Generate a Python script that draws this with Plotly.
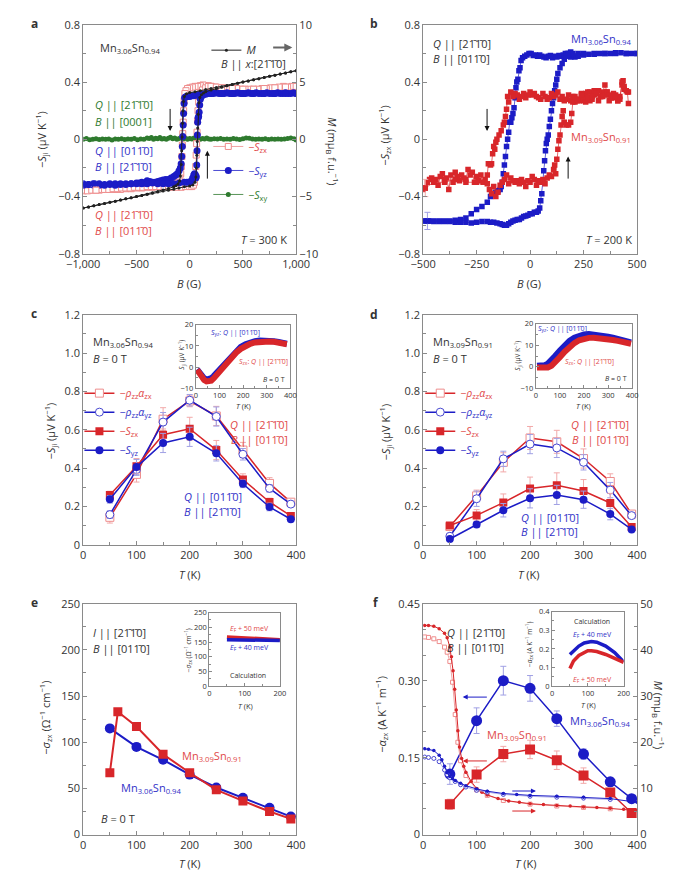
import plotly.graph_objects as go

W, H = 685, 870
FONT = "Open Sans"
TXT = "#333333"
AXC = "#8a8a8a"
RED = "#d8262a"
LRED = "#ee8c8c"
ERED = "#f2a9a9"
BLUE = "#1c1cc6"
MBLUE = "#4848d0"
LBLUE = "#a0a0e4"
GREEN = "#2e7a2e"
TRED = "#df4a4a"
TBLUE = "#3232c8"
BAR = "\u0304"
D2110 = f"[21{BAR}1{BAR}0]"
D0110 = f"[011{BAR}0]"

# ---------------- panel a : B sweeps at 300 K (B, value) ----------------
a_syz_down = [(1000, .32), (975, .325), (950, .32), (925, .32), (900, .325), (875, .32), (850, .32), (825, .325),
              (800, .32), (775, .32), (750, .32), (725, .325), (700, .32), (675, .32), (650, .32), (625, .325),
              (600, .32), (575, .32), (550, .325), (525, .32), (500, .32), (475, .32), (450, .325), (425, .32),
              (400, .32), (375, .32), (350, .325), (325, .32), (300, .32), (275, .32), (250, .325), (225, .32),
              (200, .32), (175, .32), (150, .32), (125, .315), (100, .315), (80, .31), (60, .31), (40, .305),
              (20, .305), (0, .30), (-15, .30), (-30, .30), (-40, .295), (-48, .29), (-53, .25), (-57, .18),
              (-61, .10), (-65, .02), (-69, -.05), (-74, -.12), (-80, -.17), (-88, -.20), (-100, -.22),
              (-115, -.24), (-130, -.25), (-150, -.26), (-175, -.27), (-200, -.28), (-225, -.28), (-250, -.285),
              (-275, -.29), (-300, -.295), (-325, -.30), (-350, -.30), (-375, -.295), (-400, -.29), (-425, -.305),
              (-450, -.30), (-475, -.305), (-500, -.305), (-550, -.31), (-600, -.31), (-650, -.31), (-700, -.31),
              (-750, -.31), (-800, -.315), (-850, -.31), (-900, -.31), (-950, -.315), (-1000, -.31)]
a_syz_up = [(-1000, -.32), (-950, -.315), (-900, -.32), (-850, -.32), (-800, -.32), (-750, -.315), (-700, -.32),
            (-650, -.315), (-600, -.315), (-550, -.31), (-500, -.31), (-450, -.31), (-400, -.31), (-350, -.305),
            (-300, -.31), (-250, -.31), (-200, -.31), (-150, -.31), (-100, -.305), (-50, -.30), (-25, -.30),
            (0, -.30), (15, -.29), (28, -.27), (38, -.25), (45, -.24), (52, -.245), (58, -.27), (62, -.26),
            (66, -.18), (69, -.08), (72, .03), (75, .12), (79, .15), (84, .16), (89, .19), (94, .24), (100, .28),
            (110, .30), (125, .31), (150, .315), (200, .32), (300, .32), (400, .32), (500, .32), (600, .32),
            (700, .32), (800, .32), (900, .32), (1000, .32)]
a_szx_down = [(1000, .37), (960, .37), (920, .365), (880, .37), (840, .365), (800, .36), (760, .36), (720, .355),
              (680, .355), (640, .35), (600, .35), (560, .35), (520, .35), (480, .35), (440, .355), (400, .355),
              (360, .355), (320, .36), (280, .36), (240, .365), (200, .37), (175, .375), (150, .375), (125, .38),
              (100, .375), (75, .37), (50, .37), (25, .365), (0, .36), (-20, .355), (-35, .34), (-45, .32),
              (-52, .27), (-57, .2), (-61, .12), (-65, .04), (-69, -.04), (-73, -.12), (-78, -.19), (-84, -.24),
              (-92, -.27), (-100, -.29), (-120, -.3), (-150, -.31), (-200, -.32), (-250, -.325), (-300, -.33),
              (-350, -.335), (-400, -.335), (-450, -.34), (-500, -.34), (-550, -.345), (-600, -.345),
              (-650, -.35), (-700, -.35), (-750, -.35), (-800, -.35), (-850, -.355), (-900, -.355),
              (-950, -.355), (-1000, -.36)]
a_szx_up = [(-1000, -.355), (-960, -.36), (-920, -.355), (-880, -.355), (-840, -.35), (-800, -.35), (-760, -.35),
            (-720, -.345), (-680, -.345), (-640, -.34), (-600, -.34), (-560, -.34), (-520, -.335), (-480, -.335),
            (-440, -.335), (-400, -.33), (-360, -.33), (-320, -.33), (-280, -.33), (-240, -.33), (-200, -.33),
            (-160, -.335), (-120, -.335), (-80, -.335), (-40, -.33), (0, -.33), (20, -.33), (35, -.32),
            (45, -.3), (52, -.26), (57, -.19), (61, -.11), (65, -.03), (69, .05), (73, .13), (78, .2), (84, .26),
            (92, .3), (100, .32), (120, .345), (150, .36), (175, .37), (200, .37), (250, .365), (300, .36),
            (400, .355), (500, .35), (600, .35), (700, .355), (800, .36), (900, .365), (1000, .37)]
a_sxy = [(-1000, .0), (-970, .005), (-940, -.003), (-910, .0), (-880, .004), (-850, -.002), (-820, .003),
         (-790, .0), (-760, .002), (-730, -.004), (-700, .003), (-670, .0), (-640, .004), (-610, -.002),
         (-580, .002), (-550, .0), (-520, .006), (-490, -.003), (-460, .002), (-430, .0), (-400, .01),
         (-380, .005), (-360, .012), (-340, .0), (-320, .008), (-300, .004), (-280, .012), (-260, .002),
         (-240, .006), (-220, .0), (-200, .008), (-180, .015), (-160, .004), (-140, .01), (-120, .0),
         (-100, .006), (-80, .012), (-60, .003), (-40, .009), (-20, .0), (0, .006), (20, .002), (40, .01),
         (60, .004), (80, .008), (100, .0), (120, .005), (140, .002), (160, .01), (180, .003), (200, .0),
         (230, .004), (260, .002), (290, .006), (320, .0), (350, .003), (380, .0), (410, .005), (440, .002),
         (470, -.002), (500, .004), (530, .01), (560, .008), (590, .002), (620, .0), (650, .003), (680, .0),
         (710, .004), (740, -.002), (770, .002), (800, .0), (830, .003), (860, .0), (890, .002), (920, .005),
         (950, .01), (980, .004), (1000, -.005)]
a_M_down = [(1000, 6.0), (950, 5.9), (900, 5.8), (850, 5.7), (800, 5.6), (750, 5.5), (700, 5.4), (650, 5.3),
            (600, 5.2), (550, 5.1), (500, 5.0), (450, 4.9), (400, 4.8), (350, 4.7), (300, 4.6), (250, 4.52),
            (200, 4.45), (150, 4.35), (100, 4.25), (50, 4.15), (0, 4.08), (-30, 3.98), (-50, 3.75), (-58, 3.3),
            (-63, 2.5), (-67, 1.4), (-71, 0.2), (-75, -1.0), (-80, -2.2), (-87, -3.2), (-95, -3.65),
            (-110, -3.9), (-130, -4.05), (-150, -4.15), (-200, -4.3), (-250, -4.42), (-300, -4.55),
            (-350, -4.67), (-400, -4.8), (-450, -4.9), (-500, -5.0), (-550, -5.1), (-600, -5.2), (-650, -5.3),
            (-700, -5.4), (-750, -5.5), (-800, -5.6), (-850, -5.7), (-900, -5.8), (-950, -5.9), (-1000, -6.0)]
a_M_up = [(-1000, -6.0), (-950, -5.9), (-900, -5.8), (-850, -5.7), (-800, -5.6), (-750, -5.5), (-700, -5.4),
          (-650, -5.3), (-600, -5.2), (-550, -5.1), (-500, -5.0), (-450, -4.9), (-400, -4.8), (-350, -4.7),
          (-300, -4.6), (-250, -4.52), (-200, -4.45), (-150, -4.35), (-100, -4.25), (-50, -4.15), (0, -4.08),
          (30, -3.98), (50, -3.75), (58, -3.3), (63, -2.5), (67, -1.4), (71, -0.2), (75, 1.0), (80, 2.2),
          (87, 3.2), (95, 3.65), (110, 3.9), (130, 4.05), (150, 4.15), (200, 4.3), (250, 4.42), (300, 4.55),
          (350, 4.67), (400, 4.8), (450, 4.9), (500, 5.0), (550, 5.1), (600, 5.2), (650, 5.3), (700, 5.4),
          (750, 5.5), (800, 5.6), (850, 5.7), (900, 5.8), (950, 5.9), (1000, 6.0)]

# ---------------- panel b : B sweeps at 200 K ----------------
b_06_down = [(500, .6), (475, .6), (450, .6), (425, .605), (400, .605), (375, .6), (350, .6), (325, .6),
             (300, .595), (275, .595), (250, .59), (225, .58), (210, .575), (200, .58), (190, .575), (180, .59),
             (175, .6), (165, .6), (155, .59), (145, .58), (135, .585), (125, .575), (115, .58), (105, .57),
             (95, .585), (85, .58), (75, .57), (65, .575), (55, .58), (45, .59), (35, .58), (25, .59), (15, .585),
             (5, .6), (-5, .6), (-15, .59), (-25, .58), (-35, .57), (-42, .55), (-47, .50), (-52, .48),
             (-57, .42), (-62, .40), (-66, .36), (-70, .29), (-75, .22), (-80, .18), (-85, .15), (-90, .12),
             (-95, .12), (-100, .05), (-105, 0.0), (-110, -.05), (-115, -.12), (-120, -.18), (-125, -.24),
             (-130, -.30), (-135, -.33), (-140, -.35), (-150, -.36), (-160, -.37), (-170, -.38), (-185, -.40),
             (-200, -.44), (-225, -.47), (-250, -.49), (-275, -.52), (-300, -.55), (-325, -.56), (-350, -.565),
             (-375, -.57), (-400, -.57), (-425, -.57), (-450, -.57), (-475, -.57), (-500, -.57)]
b_06_up = [(-500, -.57), (-475, -.57), (-450, -.575), (-425, -.575), (-400, -.575), (-375, -.575), (-350, -.58),
           (-325, -.58), (-300, -.58), (-275, -.585), (-250, -.58), (-225, -.575), (-200, -.575), (-185, -.58),
           (-170, -.58), (-155, -.585), (-140, -.59), (-130, -.595), (-120, -.60), (-110, -.60), (-100, -.59),
           (-90, -.58), (-80, -.57), (-70, -.565), (-60, -.56), (-50, -.56), (-40, -.55), (-30, -.54),
           (-20, -.535), (-10, -.53), (0, -.52), (10, -.52), (20, -.51), (30, -.51), (38, -.50), (45, -.48),
           (50, -.43), (55, -.38), (60, -.30), (64, -.22), (68, -.15), (72, -.08), (76, -.03), (80, 0.0),
           (85, .03), (90, .09), (95, .14), (100, .2), (105, .25), (110, .29), (115, .34), (120, .38),
           (125, .42), (130, .46), (140, .5), (150, .53), (160, .56), (170, .58), (180, .6), (190, .61),
           (200, .6), (225, .6), (250, .6), (300, .6), (350, .6), (400, .6), (450, .6), (500, .6)]
b_09_down = [(460, .25), (455, .33), (440, .35), (435, .41), (430, .38), (420, .3), (410, .27), (400, .31),
             (390, .32), (380, .29), (370, .27), (360, .33), (350, .38), (340, .33), (330, .3), (320, .34),
             (310, .33), (300, .31), (290, .28), (280, .27), (270, .33), (260, .32), (250, .30), (240, .32),
             (230, .28), (220, .27), (210, .26), (200, .3), (190, .27), (180, .31), (170, .28), (160, .27),
             (150, .30), (140, .28), (130, .33), (120, .31), (110, .3), (100, .32), (90, .29), (80, .28),
             (70, .30), (60, .32), (50, .28), (40, .29), (30, .30), (20, .32), (10, .31), (0, .33), (-10, .31),
             (-20, .29), (-30, .32), (-40, .30), (-50, .28), (-60, .31), (-70, .32), (-80, .30), (-90, .33),
             (-100, .26), (-105, .3), (-110, .21), (-115, .16), (-120, .12), (-125, .1), (-135, .06),
             (-145, .03), (-155, 0.0), (-160, -.02), (-165, -.07), (-170, -.05), (-175, -.1), (-180, -.17),
             (-185, -.18), (-195, -.17), (-200, -.25), (-210, -.28), (-220, -.3), (-230, -.25), (-240, -.29),
             (-250, -.26), (-260, -.3), (-270, -.23), (-280, -.25), (-290, -.21), (-300, -.28), (-310, -.27),
             (-320, -.25), (-330, -.29), (-340, -.26), (-350, -.23), (-360, -.3), (-370, -.25), (-380, -.35),
             (-390, -.27), (-400, -.28), (-410, -.24), (-420, -.26), (-430, -.32), (-440, -.28), (-450, -.3),
             (-460, -.27), (-470, -.28), (-480, -.3), (-490, -.34), (-500, -.34)]
b_09_up = [(-500, -.35), (-450, -.3), (-400, -.3), (-350, -.28), (-300, -.3), (-250, -.3), (-200, -.31),
           (-190, -.35), (-180, -.38), (-170, -.33), (-160, -.4), (-150, -.37), (-140, -.32), (-130, -.3),
           (-120, -.28), (-110, -.25), (-100, -.31), (-90, -.27), (-80, -.29), (-70, -.3), (-60, -.29),
           (-50, -.31), (-40, -.28), (-30, -.3), (-20, -.33), (-10, -.29), (0, -.3), (10, -.26), (20, -.28),
           (30, -.32), (40, -.29), (50, -.3), (60, -.28), (70, -.31), (80, -.27), (90, -.25), (100, -.26),
           (110, -.21), (115, -.18), (120, -.24), (125, -.14), (130, -.07), (135, -.01), (140, .03), (145, .1),
           (150, .16), (155, .2), (160, .12), (170, .1), (180, .1), (190, .12), (195, .18), (200, .26),
           (210, .3), (220, .28), (230, .27), (240, .31), (250, .27), (260, .26), (270, .29), (280, .33),
           (290, .3), (300, .34), (310, .32), (320, .27), (330, .3), (340, .3), (350, .31), (360, .33),
           (370, .31), (380, .29), (390, .29), (400, .3), (410, .27), (420, .28), (430, .4), (440, .37),
           (450, .34), (460, .33)]

# ---------------- panels c, d : temperature dependence ----------------
T8 = [50, 100, 150, 200, 250, 300, 350, 390]
c_rho_zx = [0.143, 0.367, 0.655, 0.75, 0.672, 0.494, 0.32, 0.222]
c_rho_zx_err = [0.03, 0.04, 0.06, 0.03, 0.05, 0.04, 0.03, 0.01]
c_rho_yz = [0.157, 0.392, 0.64, 0.754, 0.669, 0.472, 0.294, 0.212]
c_rho_yz_err = [0.02, 0.03, 0.05, 0.03, 0.05, 0.03, 0.02, 0.01]
c_szx = [0.259, 0.41, 0.574, 0.605, 0.494, 0.34, 0.223, 0.15]
c_szx_err = [0.02, 0.04, 0.03, 0.06, 0.05, 0.03, 0.02, 0.01]
c_syz = [0.237, 0.405, 0.531, 0.563, 0.477, 0.318, 0.197, 0.133]
c_syz_err = [0.02, 0.04, 0.05, 0.05, 0.04, 0.02, 0.02, 0.01]

d_rho_zx = [0.095, 0.255, 0.43, 0.557, 0.537, 0.45, 0.33, 0.16]
d_rho_zx_err = [0.02, 0.03, 0.05, 0.06, 0.06, 0.05, 0.04, 0.015]
d_rho_yz = [0.044, 0.24, 0.448, 0.525, 0.505, 0.43, 0.285, 0.152]
d_rho_yz_err = [0.015, 0.04, 0.04, 0.05, 0.05, 0.04, 0.04, 0.015]
d_szx = [0.10, 0.153, 0.22, 0.293, 0.31, 0.28, 0.218, 0.092]
d_szx_err = [0.01, 0.03, 0.045, 0.06, 0.065, 0.06, 0.05, 0.01]
d_syz = [0.03, 0.105, 0.18, 0.242, 0.26, 0.235, 0.16, 0.08]
d_syz_err = [0.01, 0.015, 0.035, 0.05, 0.05, 0.045, 0.03, 0.01]

ci_T = [5, 15, 25, 35, 45, 55, 65, 75, 85, 100, 115, 130, 150, 170, 190, 210, 230, 250, 270, 290, 310, 330,
        350, 370, 385]
ci_syz = [-1, -2.5, -4, -5.2, -5.8, -5.8, -5.2, -4.2, -3, -1, 1, 3, 5.5, 7.7, 9.5, 10.8, 11.7, 12.2, 12.5,
          12.6, 12.5, 12.2, 11.8, 11.3, 11]
ci_szx = [-1.2, -3, -4.7, -6, -6.7, -6.8, -6.3, -5.3, -4, -2, 0, 2, 4.5, 6.8, 8.6, 10, 11, 11.6, 12, 12.2,
          12.1, 11.9, 11.6, 11.2, 10.8]
di_T = [5, 20, 35, 50, 65, 80, 100, 120, 140, 160, 180, 200, 220, 240, 260, 280, 300, 320, 340, 360, 380, 395]
di_syz = [0.5, 0.5, 0.7, 1.5, 3, 5, 7.5, 10, 12, 13.5, 14.5, 15, 15.2, 15, 14.7, 14.3, 13.9, 13.5, 13, 12.5,
          11.9, 11.3]
di_szx = [-0.3, -0.5, -0.6, -0.3, 0.5, 2, 4.5, 7, 9.2, 11, 12.3, 13, 13.4, 13.5, 13.4, 13.1, 12.8, 12.4, 12,
          11.6, 11.1, 10.7]

# ---------------- panel e ----------------
e_T06 = [50, 100, 150, 200, 250, 300, 350, 390]
e_06 = [115, 95, 81, 65, 51, 40, 29, 19.5]
e_T09 = [50, 65, 100, 150, 200, 250, 300, 350, 390]
e_09 = [67, 133, 117, 87, 67, 48.5, 36.5, 25, 17]
ei_T = [50, 75, 100, 125, 150, 175, 200]
ei_50 = [167, 166, 164, 162, 160, 159, 158]
ei_40 = [158, 157.5, 157, 156.5, 156, 155.5, 155]

# ---------------- panel f ----------------
f_06 = [0.118, 0.222, 0.30, 0.285, 0.226, 0.157, 0.103, 0.07]
f_06_err = [0.02, 0.025, 0.028, 0.025, 0.015, 0.01, 0.008, 0.005]
f_09 = [0.059, 0.117, 0.157, 0.166, 0.145, 0.115, 0.082, 0.042]
f_09_err = [0.01, 0.015, 0.015, 0.018, 0.018, 0.015, 0.007, 0.005]
fM09_T = [3, 10, 20, 30, 40, 45, 50, 53, 56, 59, 62, 65, 68, 72, 76, 80, 90, 100, 110, 120, 140, 160, 180, 200,
          225, 250, 275, 300, 325, 350, 375, 400]
fM09 = [45.3, 45.3, 45.1, 44.6, 43.6, 42.6, 40.6, 38.5, 35.5, 31.5, 27, 22.5, 19, 16.5, 14.8, 13.5, 11.5, 10,
        9.2, 8.6, 7.8, 7.3, 7, 6.7, 6.5, 6.3, 6.2, 6.0, 5.9, 5.7, 5.5, 5.2]
fM09o_T = [3, 10, 20, 30, 40, 45, 50, 55, 60, 65, 70, 80, 100, 120, 150, 200, 250, 300, 350]
fM09o = [42.8, 42.7, 42.4, 41.8, 40.6, 39.5, 37.5, 33, 26, 20, 16, 12.8, 9.7, 8.5, 7.4, 6.6, 6.2, 5.9, 5.6]
fM06_T = [3, 10, 20, 30, 35, 40, 45, 50, 55, 60, 70, 80, 100, 120, 150, 175, 200, 250, 300, 350, 400]
fM06 = [18.6, 18.5, 18.2, 17.2, 16.2, 14.8, 13.4, 12.6, 12.1, 11.7, 11.1, 10.6, 9.9, 9.4, 8.9, 8.7, 8.5, 8.3,
        8.1, 7.8, 7.0]
fM06o_T = [3, 10, 20, 30, 40, 45, 50, 60, 70, 80, 100, 120, 150, 200, 250, 300, 350]
fM06o = [16.8, 16.7, 16.5, 15.8, 14, 13, 12.3, 11.5, 10.8, 10.3, 9.6, 9.2, 8.7, 8.3, 8.1, 7.9, 7.6]
fi_T = [50, 60, 75, 90, 100, 110, 125, 150, 175, 200]
fi_40 = [0.17, 0.19, 0.215, 0.232, 0.238, 0.24, 0.236, 0.215, 0.18, 0.13]
fi_50 = [0.095, 0.135, 0.165, 0.183, 0.19, 0.19, 0.186, 0.17, 0.15, 0.128]


def unzip(pairs):
    return [p[0] for p in pairs], [p[1] for p in pairs]


def col(s, c):
    return f"<span style='color:{c}'>{s}</span>"


fig = go.Figure()


def add(x, y, xa, ya, **kw):
    kw.setdefault("showlegend", False)
    fig.add_trace(go.Scatter(x=x, y=y, xaxis=xa, yaxis=ya, **kw))


def err(vals, c):
    return dict(type="data", array=vals, color=c, thickness=1, width=3)


# panel a
x, y = unzip(a_sxy)
add(x, y, "x", "y", mode="lines+markers", line=dict(color=GREEN, width=0.8),
    marker=dict(size=5, color=GREEN), name=col("−<i>S</i><sub>xy</sub>", GREEN),
    showlegend=True, legend="legend2", legendgroup="a3", legendrank=3)
x, y = unzip(a_szx_down + a_szx_up)
add(x, y, "x", "y", mode="lines+markers", line=dict(color=LRED, width=0.8),
    marker=dict(size=6, color="white", symbol="square", line=dict(color=LRED, width=1)),
    name=col("−<i>S</i><sub>zx</sub>", TRED), showlegend=True, legend="legend2", legendgroup="a1", legendrank=1)
x, y = unzip(a_syz_down + a_syz_up)
add(x, y, "x", "y", mode="lines+markers", line=dict(color=BLUE, width=0.8),
    marker=dict(size=7, color=BLUE), name=col("−<i>S</i><sub>yz</sub>", TBLUE),
    showlegend=True, legend="legend2", legendgroup="a2", legendrank=2)
add([-900], [-0.31], "x", "y", mode="markers", marker=dict(size=7, color=BLUE), error_y=err([0.02], LBLUE))
add([-880], [-0.355], "x", "y", mode="markers",
    marker=dict(size=6, color="white", symbol="square", line=dict(color=LRED, width=1)), error_y=err([0.02], ERED))
x, y = unzip(a_M_down + a_M_up)
add(x, y, "x", "y7", mode="lines+markers", line=dict(color="#222222", width=1),
    marker=dict(size=3, color="#222222"), name="<i>M</i>", showlegend=True, legend="legend")

# panel b
x, y = unzip(b_06_down + b_06_up)
add(x, y, "x2", "y2", mode="lines+markers", line=dict(color=BLUE, width=0.7),
    marker=dict(size=5.5, color=BLUE, symbol="square"))
x, y = unzip(b_09_down + b_09_up)
add(x, y, "x2", "y2", mode="lines+markers", line=dict(color=RED, width=0.7),
    marker=dict(size=5.5, color=RED, symbol="square"))
add([-480], [-0.57], "x2", "y2", mode="markers", marker=dict(size=5.5, color=BLUE, symbol="square"),
    error_y=err([0.06], LBLUE))
add([-490], [-0.34], "x2", "y2", mode="markers", marker=dict(size=5.5, color=RED, symbol="square"),
    error_y=err([0.06], ERED))

# panels c, d
for xa, ya, lg, rzx, rzxe, ryz, ryze, szx, szxe, syz, syze in [
        ("x3", "y3", "legend3", c_rho_zx, c_rho_zx_err, c_rho_yz, c_rho_yz_err, c_szx, c_szx_err, c_syz, c_syz_err),
        ("x4", "y4", "legend4", d_rho_zx, d_rho_zx_err, d_rho_yz, d_rho_yz_err, d_szx, d_szx_err, d_syz, d_syz_err)]:
    add(T8, rzx, xa, ya, mode="lines+markers", line=dict(color=RED, width=1.5),
        marker=dict(size=8, color="white", symbol="square", line=dict(color=LRED, width=1)),
        error_y=err(rzxe, ERED), name=col("−<i>ρ</i><sub>zz</sub><i>α</i><sub>zx</sub>", TRED),
        showlegend=True, legend=lg, legendrank=1)
    add(T8, ryz, xa, ya, mode="lines+markers", line=dict(color=BLUE, width=1.5),
        marker=dict(size=8, color="white", symbol="circle", line=dict(color=MBLUE, width=1)),
        error_y=err(ryze, LBLUE), name=col("−<i>ρ</i><sub>zz</sub><i>α</i><sub>yz</sub>", TBLUE),
        showlegend=True, legend=lg, legendrank=2)
    add(T8, szx, xa, ya, mode="lines+markers", line=dict(color=RED, width=1.5),
        marker=dict(size=8, color=RED, symbol="square"), error_y=err(szxe, ERED),
        name=col("−<i>S</i><sub>zx</sub>", TRED), showlegend=True, legend=lg, legendrank=3)
    add(T8, syz, xa, ya, mode="lines+markers", line=dict(color=BLUE, width=1.5),
        marker=dict(size=8, color=BLUE, symbol="circle"), error_y=err(syze, LBLUE),
        name=col("−<i>S</i><sub>yz</sub>", TBLUE), showlegend=True, legend=lg, legendrank=4)

add(ci_T, ci_syz, "x9", "y9", mode="lines", line=dict(color=BLUE, width=6))
add(ci_T, ci_szx, "x9", "y9", mode="lines", line=dict(color=RED, width=6))
add(di_T, di_syz, "x10", "y10", mode="lines", line=dict(color=BLUE, width=6))
add(di_T, di_szx, "x10", "y10", mode="lines", line=dict(color=RED, width=6))

# panel e
add(e_T06, e_06, "x5", "y5", mode="lines+markers", line=dict(color=BLUE, width=2),
    marker=dict(size=10, color=BLUE))
add(e_T09, e_09, "x5", "y5", mode="lines+markers", line=dict(color=RED, width=2),
    marker=dict(size=9, color=RED, symbol="square"))
add(ei_T, ei_50, "x11", "y11", mode="lines", line=dict(color=RED, width=3.5))
add(ei_T, ei_40, "x11", "y11", mode="lines", line=dict(color=BLUE, width=3.5))

# panel f
add(fM09o_T, fM09o, "x6", "y8", mode="lines+markers", line=dict(color=LRED, width=0.8),
    marker=dict(size=4, color="white", symbol="square", line=dict(color=LRED, width=1)))
add(fM09_T, fM09, "x6", "y8", mode="lines+markers", line=dict(color=RED, width=1),
    marker=dict(size=3.5, color=RED))
add(fM06o_T, fM06o, "x6", "y8", mode="lines+markers", line=dict(color=LBLUE, width=0.8),
    marker=dict(size=4, color="white", line=dict(color=MBLUE, width=1)))
add(fM06_T, fM06, "x6", "y8", mode="lines+markers", line=dict(color=BLUE, width=1),
    marker=dict(size=3.5, color=BLUE))
add(T8, f_06, "x6", "y6", mode="lines+markers", line=dict(color=BLUE, width=1.5),
    marker=dict(size=11, color=BLUE), error_y=err(f_06_err, LBLUE))
add(T8, f_09, "x6", "y6", mode="lines+markers", line=dict(color=RED, width=1.5),
    marker=dict(size=10, color=RED, symbol="square"), error_y=err(f_09_err, ERED))
add(fi_T, fi_40, "x12", "y12", mode="lines", line=dict(color=BLUE, width=3.5))
add(fi_T, fi_50, "x12", "y12", mode="lines", line=dict(color=RED, width=3.5))


# ---------------- axes ----------------
def dx(p0, p1):
    return [p0 / W, p1 / W]


def dy(p0, p1):
    return [1 - p1 / H, 1 - p0 / H]


def axis(domain, rng, anchor, vals, text=None, minor=None, size=11, tl=4, **kw):
    d = dict(domain=domain, range=rng, anchor=anchor, showline=True, linecolor=AXC, linewidth=1,
             mirror=True, ticks="inside", ticklen=tl, tickcolor=AXC, showgrid=False, zeroline=False,
             tickmode="array", tickvals=vals, tickfont=dict(size=size, color=TXT, family=FONT))
    if text is not None:
        d["ticktext"] = text
    if minor is not None:
        d["minor"] = dict(dtick=minor, tick0=0, ticks="inside", ticklen=tl - 1, tickcolor=AXC, showgrid=False)
    d.update(kw)
    return d


T5 = [0, 100, 200, 300, 400]
S_vals = [-0.8, -0.4, 0, 0.4, 0.8]
S_text = ["−0.8", "−0.4", "0", "0.4", "0.8"]
C_vals = [0, 0.2, 0.4, 0.6, 0.8, 1.0, 1.2]
C_text = ["0", "0.2", "0.4", "0.6", "0.8", "1.0", "1.2"]
ins = dict(size=7.5, tl=3)

layout_axes = dict(
    xaxis=axis(dx(61, 284), [-1000, 1000], "y", [-1000, -500, 0, 500, 1000],
               ["−1,000", "−500", "0", "500", "1,000"], 250),
    yaxis=axis(dy(9, 242), [-0.8, 0.8], "x", S_vals, S_text, 0.2),
    yaxis7=axis(None, [-10, 10], "x", [-10, -5, 0, 5, 10], ["−10", "−5", "0", "5", "10"], 2.5,
                overlaying="y", side="right", mirror=False),
    xaxis2=axis(dx(417, 641), [-500, 500], "y2", [-500, -250, 0, 250, 500],
                ["−500", "−250", "0", "250", "500"], 125),
    yaxis2=axis(dy(9, 242), [-0.8, 0.8], "x2", S_vals, S_text, 0.2),
    xaxis3=axis(dx(61, 284), [0, 400], "y3", T5, None, 50),
    yaxis3=axis(dy(304, 538), [0, 1.2], "x3", C_vals, C_text, 0.1),
    xaxis4=axis(dx(417, 641), [0, 400], "y4", T5, None, 50),
    yaxis4=axis(dy(304, 538), [0, 1.2], "x4", C_vals, C_text, 0.1),
    xaxis5=axis(dx(61, 284), [0, 400], "y5", T5, None, 50),
    yaxis5=axis(dy(598, 833), [0, 250], "x5", [0, 50, 100, 150, 200, 250], None, 25),
    xaxis6=axis(dx(417, 641), [0, 400], "y6", T5, None, 50),
    yaxis6=axis(dy(598, 833), [0, 0.45], "x6", [0, 0.15, 0.30, 0.45], ["0", "0.15", "0.30", "0.45"], 0.05),
    yaxis8=axis(None, [0, 50], "x6", [0, 10, 20, 30, 40, 50], None, 5,
                overlaying="y6", side="right", mirror=False),
    xaxis9=axis(dx(179, 278), [0, 400], "y9", T5, None, 50, **ins),
    yaxis9=axis(dy(314, 379), [-10, 20], "x9", [-10, 0, 10, 20], ["−10", "0", "10", "20"], 5, **ins),
    xaxis10=axis(dx(535, 636), [0, 400], "y10", T5, None, 50, **ins),
    yaxis10=axis(dy(313, 379), [-10, 20], "x10", [-10, 0, 10, 20], ["−10", "0", "10", "20"], 5, **ins),
    xaxis11=axis(dx(193, 267), [0, 200], "y11", [0, 100, 200], None, 50, **ins),
    yaxis11=axis(dy(607, 682), [0, 250], "x11", [0, 50, 100, 150, 200, 250], None, 25, **ins),
    xaxis12=axis(dx(552, 627), [0, 200], "y12", [0, 100, 200], None, 50, **ins),
    yaxis12=axis(dy(606, 682), [0, 0.4], "x12", [0, 0.1, 0.2, 0.3, 0.4],
                 ["0", "0.1", "0.2", "0.3", "0.4"], 0.05, **ins),
)
for k in ("yaxis7", "yaxis8"):
    layout_axes[k].pop("domain")

# ---------------- annotations ----------------
ann = []


def ptxt(px, py, s, size=11, angle=0, color=TXT, xanchor="center", bold=False):
    if bold:
        s = f"<b>{s}</b>"
    ann.append(dict(x=px / W, y=1 - py / H, xref="paper", yref="paper", text=s, showarrow=False,
                    textangle=angle, xanchor=xanchor, yanchor="middle",
                    font=dict(family=FONT, size=size, color=color)))


def dtxt(ax_, x, y, s, color=TXT, size=11, xanchor="left"):
    ann.append(dict(x=x, y=y, xref=ax_[0], yref=ax_[1], text=s, showarrow=False, xanchor=xanchor,
                    yanchor="middle", font=dict(family=FONT, size=size, color=color)))


def arrow(ax_, x0, y0, x1, y1, color="#111111", width=1, head=2, size=1):
    ann.append(dict(x=x1, y=y1, ax=x0, ay=y0, xref=ax_[0], yref=ax_[1], axref=ax_[0], ayref=ax_[1],
                    text="", showarrow=True, arrowhead=head, arrowsize=size, arrowwidth=width,
                    arrowcolor=color))


for lab, px, py in [("a", 4, 8), ("b", 359, 8), ("c", 4, 303), ("d", 359, 304), ("e", 4, 597), ("f", 362, 597)]:
    ptxt(px, py, lab, size=12, xanchor="left", bold=True)

SJI = "−<i>S</i><sub>ji</sub> (μV K<sup>−1</sup>)"
MT = "<i>M</i> (mμ<sub>B</sub> f.u.<sup>−1</sup>)"
TK = "<i>T</i> (K)"
ptxt(18, 126, SJI, angle=-90)
ptxt(322, 138, MT, angle=90)
ptxt(172, 272, "<i>B</i> (G)")
ptxt(377, 121, "−<i>S</i><sub>zx</sub> (μV K<sup>−1</sup>)", angle=-90)
ptxt(528, 272, "<i>B</i> (G)")
ptxt(27, 422, SJI, angle=-90)
ptxt(173, 568, TK)
ptxt(378, 423, SJI, angle=-90)
ptxt(528, 568, TK)
ptxt(22, 714, "−<i>σ</i><sub>zx</sub> (Ω<sup>−1</sup> cm<sup>−1</sup>)", angle=-90)
ptxt(173, 862, TK)
ptxt(374, 711, "−<i>α</i><sub>zx</sub> (A K<sup>−1</sup> m<sup>−1</sup>)", angle=-90)
ptxt(663, 711, MT, angle=90)
ptxt(525, 862, TK)
# inset titles
ptxt(164, 345, "<i>S</i><sub>ji</sub> (μV K<sup>−1</sup>)", size=6.5, angle=-90)
ptxt(229, 397, TK, size=7.5)
ptxt(516, 346, "<i>S</i><sub>ji</sub> (μV K<sup>−1</sup>)", size=6.5, angle=-90)
ptxt(585, 397, TK, size=7.5)
ptxt(171, 645, "−<i>σ</i><sub>zx</sub> (Ω<sup>−1</sup> cm<sup>−1</sup>)", size=6.5, angle=-90)
ptxt(231, 702, TK, size=7.5)
ptxt(528, 640, "−<i>α</i><sub>zx</sub> (A K<sup>−1</sup> m<sup>−1</sup>)", size=6.5, angle=-90)
ptxt(590, 701, TK, size=7.5)

A, Bp, C, Dp, E, F = ("x", "y"), ("x2", "y2"), ("x3", "y3"), ("x4", "y4"), ("x5", "y5"), ("x6", "y6")
MN06 = "Mn<sub>3.06</sub>Sn<sub>0.94</sub>"
MN09 = "Mn<sub>3.09</sub>Sn<sub>0.91</sub>"
QX = f"<i>Q</i> || {D2110}"
BY = f"<i>B</i> || {D0110}"
QY = f"<i>Q</i> || {D0110}"
BX = f"<i>B</i> || {D2110}"

dtxt(A, -860, 0.64, MN06)
dtxt(A, 600, 0.532, f"<i>B</i> || <i>x</i>:{D2110}", xanchor="center")
dtxt(A, -905, 0.245, QX, GREEN)
dtxt(A, -905, 0.127, "<i>B</i> || [0001]", GREEN)
dtxt(A, -905, -0.079, QY, TBLUE)
dtxt(A, -905, -0.189, BX, TBLUE)
dtxt(A, -905, -0.525, QX, TRED)
dtxt(A, -905, -0.635, BY, TRED)
dtxt(A, 700, -0.697, "<i>T</i> = 300 K", xanchor="center")
arrow(A, -184, 0.223, -184, 0.058)
arrow(A, 166, -0.285, 166, -0.079)
arrow(A, 770, 0.642, 964, 0.642, color="#666666", width=2, head=2, size=0.8)

dtxt(Bp, -465, 0.67, QX)
dtxt(Bp, -465, 0.567, BY)
dtxt(Bp, 482, 0.704, MN06, TBLUE, xanchor="right")
dtxt(Bp, 482, 0.017, MN09, TRED, xanchor="right")
dtxt(Bp, 370, -0.697, "<i>T</i> = 200 K", xanchor="center")
arrow(Bp, -201, 0.223, -201, 0.058)
arrow(Bp, 178, -0.285, 178, -0.12)

for P, mn in [(C, MN06), (Dp, MN09)]:
    dtxt(P, 15, 1.056, mn)
    dtxt(P, 15, 0.974, "<i>B</i> = 0 T")
    dtxt(P, 388, 0.626, QX, TRED, xanchor="right")
    dtxt(P, 388, 0.549, BY, TRED, xanchor="right")
dtxt(C, 243, 0.251, QY, TBLUE, xanchor="center")
dtxt(C, 243, 0.174, BX, TBLUE, xanchor="center")
dtxt(Dp, 237, 0.144, QY, TBLUE, xanchor="center")
dtxt(Dp, 237, 0.067, BX, TBLUE, xanchor="center")

CI, DI, EI, FI = ("x9", "y9"), ("x10", "y10"), ("x11", "y11"), ("x12", "y12")
dtxt(CI, 57, 16.3, f"<i>S</i><sub>yz</sub>: <i>Q</i> || {D0110}", TBLUE, size=7)
dtxt(CI, 174, 2.5, f"<i>S</i><sub>zx</sub>: <i>Q</i> || {D2110}", TRED, size=7)
dtxt(CI, 385, -5.8, "<i>B</i> = 0 T", size=7, xanchor="right")
dtxt(DI, 2, 17.7, f"<i>S</i><sub>yz</sub>: <i>Q</i> || {D0110}", TBLUE, size=7)
dtxt(DI, 111, 2.7, f"<i>S</i><sub>zx</sub>: <i>Q</i> || {D2110}", TRED, size=7)
dtxt(DI, 385, -5.5, "<i>B</i> = 0 T", size=7, xanchor="right")

dtxt(E, 15, 219, f"<i>I</i> || {D2110}")
dtxt(E, 15, 202, BY)
dtxt(E, 241, 85, MN09, TRED, xanchor="center")
dtxt(E, 128, 51, MN06, TBLUE, xanchor="center")
dtxt(E, 30, 18, "<i>B</i> = 0 T")
dtxt(EI, 54, 197, "<i>E</i><sub>F</sub> + 50 meV", TRED, size=7)
dtxt(EI, 54, 130, "<i>E</i><sub>F</sub> + 40 meV", TBLUE, size=7)
dtxt(EI, 54, 35, "Calculation", size=7)

dtxt(F, 40, 0.394, QX)
dtxt(F, 40, 0.364, BY)
dtxt(F, 176, 0.195, MN09, TRED, xanchor="center")
dtxt(F, 330, 0.221, MN06, TBLUE, xanchor="center")
arrow(F, 122, 0.268, 74, 0.268, color=BLUE)
arrow(F, 122, 0.1436, 74, 0.1436, color=RED)
arrow(F, 164, 0.085, 211, 0.085, color=BLUE)
arrow(F, 164, 0.046, 211, 0.046, color=RED)
dtxt(FI, 113, 0.347, "Calculation", size=7, xanchor="center")
dtxt(FI, 113, 0.279, "<i>E</i><sub>F</sub> + 40 meV", TBLUE, size=7, xanchor="center")
dtxt(FI, 113, 0.037, "<i>E</i><sub>F</sub> + 50 meV", TRED, size=7, xanchor="center")


def leg(px, py, gap, size=10.5, order="normal"):
    return dict(x=px / W, y=1 - py / H, xanchor="left", yanchor="top", bgcolor="rgba(0,0,0,0)",
                font=dict(family=FONT, size=size, color=TXT), tracegroupgap=gap, itemwidth=30,
                traceorder=order)


fig.update_layout(
    width=W, height=H, autosize=False,
    margin=dict(l=0, r=0, t=0, b=0),
    paper_bgcolor="white", plot_bgcolor="white",
    font=dict(family=FONT, size=11, color=TXT),
    annotations=ann,
    legend=leg(190, 20, 0, size=11),
    legend2=leg(192, 118, 5, order="grouped"),
    legend3=leg(57, 369, 0),
    legend4=leg(414, 369, 0),
    **layout_axes,
)

fig.write_html("out.html")
